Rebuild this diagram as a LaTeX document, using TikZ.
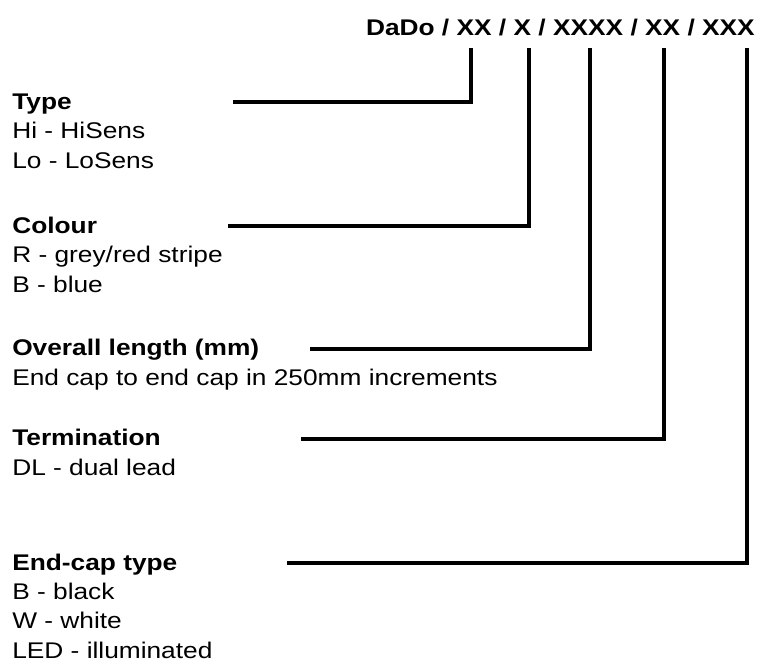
\documentclass[tikz,border=0pt]{standalone}
\usepackage{fontspec}
\setmainfont[FakeStretch=1.16]{Liberation Sans}
\usetikzlibrary{positioning}
\begin{document}
\begin{tikzpicture}[x=0.75pt,y=-0.75pt]
	\tikzset{item/.style={align=left,anchor=base west,inner sep=0pt,font=\fontsize{17}{22}\selectfont},
		lead/.style={draw,line width=2.5pt}}
	\useasboundingbox (0,0) rectangle (758,662);
	\node [item, anchor=base east] (code) at (755,35) {\textbf{DaDo / XX / X / XXXX / XX / XXX}};
	% base anchor = last line of each block
	\node [item] (type) at (12,168) {\textbf{Type}\\Hi - HiSens\\Lo - LoSens};
	\node [item] (colour) at (12,292) {\textbf{Colour}\\R - grey/red stripe\\B - blue};
	\node [item] (length) at (12,385) {\textbf{Overall length (mm)}\\End cap to end cap in 250mm increments};
	\node [item] (term) at (12,475) {\textbf{Termination}\\DL - dual lead};
	\node [item] (endcap) at (12,658) {\textbf{End-cap type}\\B - black\\W - white\\LED - illuminated};
	% lead lines
	\coordinate (a1) at (233,102); \coordinate (b1) at (471,48);
	\coordinate (a2) at (228,226); \coordinate (b2) at (529,48);
	\coordinate (a3) at (310,349); \coordinate (b3) at (590,48);
	\coordinate (a4) at (301,439); \coordinate (b4) at (664,48);
	\coordinate (a5) at (287,563); \coordinate (b5) at (747,48);
	\foreach \i in {1,...,5}
		\path[lead] (a\i) -| (b\i);
\end{tikzpicture}
\end{document}
